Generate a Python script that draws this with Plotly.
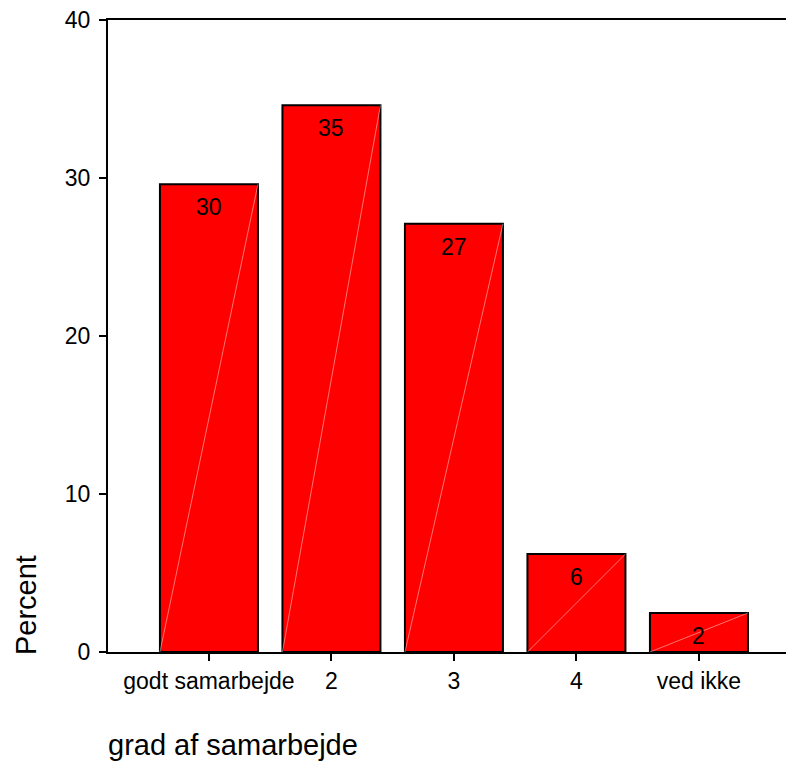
import plotly.graph_objects as go

categories = ["godt samarbejde", "2", "3", "4", "ved ikke"]
percent = [29.6, 34.6, 27.1, 6.2, 2.47]
y_ticks = [0, 10, 20, 30, 40]

FONT = "Arial, 'Liberation Sans', Helvetica, sans-serif"

fig = go.Figure()
fig.add_trace(go.Bar(
    x=categories, y=percent,
    marker=dict(color="#FF0000", line=dict(color="black", width=2)),
    hoverinfo="skip",
))

# value labels inside top of bars
for i, v in enumerate(percent):
    fig.add_annotation(x=i, y=v, xref="x", yref="y", text=f"{round(v):d}",
                       showarrow=False, yanchor="top", yshift=-8,
                       font=dict(family=FONT, size=23, color="black"))

# faint diagonal seam inside each bar
for i, v in enumerate(percent):
    fig.add_shape(type="line", xref="x", yref="y",
                  x0=i - 0.4, y0=0, x1=i + 0.4, y1=v,
                  line=dict(color="rgba(255,255,255,0.45)", width=1), layer="above")

fig.add_annotation(text="Percent", xref="paper", yref="paper",
                   x=-0.1195, y=-0.008, xanchor="center", yanchor="bottom",
                   textangle=-90, showarrow=False,
                   font=dict(family=FONT, size=29, color="black"))
fig.add_annotation(text="grad af samarbejde", xref="paper", yref="paper",
                   x=-0.003, y=-0.147, xanchor="left", yanchor="middle",
                   showarrow=False,
                   font=dict(family=FONT, size=29, color="black"))

# page body adds an 8px offset; compensate in size/margins
fig.update_layout(
    width=786, height=754,
    margin=dict(l=100, r=0, t=12, b=110),
    plot_bgcolor="white", paper_bgcolor="white",
    bargap=0.2, showlegend=False,
    font=dict(family=FONT, size=23, color="black"),
)
fig.update_xaxes(type="category", range=[-0.824, 4.776],
                 showline=True, linecolor="black", linewidth=2, mirror=True,
                 ticks="outside", ticklen=7, tickwidth=2, tickcolor="black",
                 showgrid=False, zeroline=False,
                 tickfont=dict(family=FONT, size=23, color="black"))
fig.update_yaxes(range=[0, 40], tickvals=y_ticks,
                 showline=True, linecolor="black", linewidth=2, mirror=False,
                 ticks="outside", ticklen=7, tickwidth=2, tickcolor="black",
                 showgrid=False, zeroline=False, ticklabelstandoff=4,
                 ticklabeloverflow="allow",
                 tickfont=dict(family=FONT, size=23, color="black"))

fig.write_html("out.html")
